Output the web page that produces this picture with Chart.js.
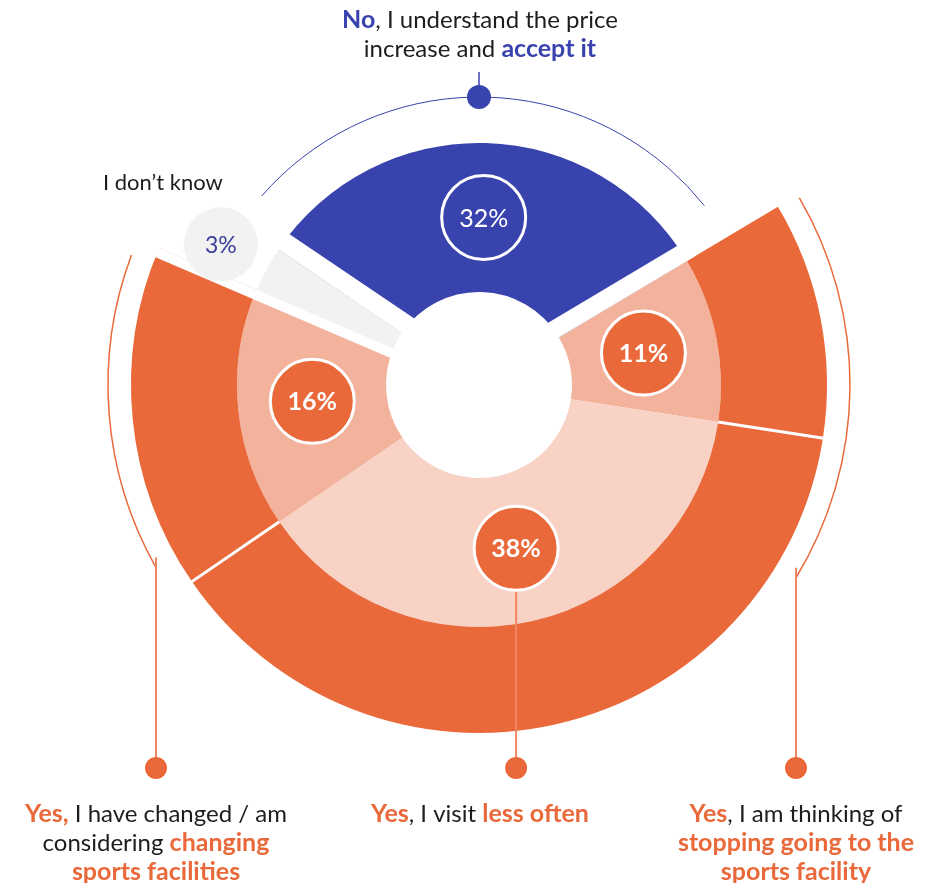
<!DOCTYPE html>
<html>
<head>
<meta charset="utf-8">
<script src="https://cdn.jsdelivr.net/npm/chart.js@4.4.1/dist/chart.umd.min.js"></script>
<style>
  html, body { margin: 0; padding: 0; background: #fff; }
  canvas { display: block; }
</style>
</head>
<body>
<canvas id="poll" width="940" height="883"></canvas>
<script>
// answers, clockwise from the top
const answers = ["accept", "stop", "lessOften", "change", "dontKnow"];
const shares = [32, 11, 38, 16, 3];
const shareLabels = ["32%", "11%", "38%", "16%", "3%"];

// the "Yes" answers get the dark outer band
const innerColors = ["#3843ad", "#f3b29b", "#f7d2c5", "#f3b29b", "#f2f2f2"];
const outerColors = ["rgba(0,0,0,0)", "#ea693a", "#ea693a", "#ea693a", "rgba(0,0,0,0)"];

const BLUE = "#3843ad", ORANGE = "#ea693a", INK = "#1d1d1b", FONT = "Lato";

// caption text: [text, bold]
const titleLines = [
  [["No", true], [", I understand the price", false]],
  [["increase and ", false], ["accept it", true]]
];
const changeLines = [
  [["Yes,", true], [" I have changed / am", false]],
  [["considering ", false], ["changing", true]],
  [["sports facilities", true]]
];
const lessLines = [
  [["Yes", true], [", I visit ", false], ["less often", true]]
];
const stopLines = [
  [["Yes", true], [", I am thinking of", false]],
  [["stopping going to the", true]],
  [["sports facility", true]]
];
const dontKnowText = "I don\u2019t know";

function rich(ctx, parts, cx, y, size, accent) {
  const fonts = parts.map(p => (p[1] ? "bold " + (size + 1) : size) + "px " + FONT);
  let w = 0;
  parts.forEach((p, i) => { ctx.font = fonts[i]; w += ctx.measureText(p[0]).width; });
  let x = cx - w / 2;
  ctx.textAlign = "left";
  ctx.textBaseline = "middle";
  parts.forEach((p, i) => {
    ctx.font = fonts[i];
    ctx.fillStyle = p[1] ? accent : INK;
    ctx.fillText(p[0], x, y);
    x += ctx.measureText(p[0]).width;
  });
}

function mid(el) {
  const a = (el.startAngle + el.endAngle) / 2;
  const r = (el.innerRadius + el.outerRadius) / 2;
  return { x: el.x + Math.cos(a) * r, y: el.y + Math.sin(a) * r, a };
}

function dot(ctx, x, y, r, color) {
  ctx.beginPath(); ctx.arc(x, y, r, 0, Math.PI * 2); ctx.fillStyle = color; ctx.fill();
}

const DEG = Math.PI / 180;
const COL_LEFT = 156, COL_RIGHT = 796, DOT_Y = 768;

const decor = {
  id: "decor",
  afterDatasetsDraw(chart) {
    const ctx = chart.ctx;
    const inner = chart.getDatasetMeta(1).data;
    const outer = chart.getDatasetMeta(0).data;
    const cx = inner[0].x, cy = inner[0].y;
    const ringEdge = outer[1].innerRadius, ringOut = outer[1].outerRadius;

    // white gaps around the blue and grey slices
    const band = (a, w, from, to) => {
      ctx.save(); ctx.translate(cx, cy); ctx.rotate(a);
      ctx.fillStyle = "#fff";
      ctx.fillRect(from, Math.min(0, w), to - from, Math.abs(w));
      ctx.restore();
    };
    band(inner[0].startAngle, 19, 40, ringEdge + 10);
    band(inner[0].endAngle, -18, 40, ringEdge + 10);
    band(inner[4].startAngle, -10, 40, ringOut + 6);

    // thin white dividers in the outer band
    ctx.strokeStyle = "#fff"; ctx.lineWidth = 3;
    [inner[1].endAngle, inner[2].endAngle].forEach(a => {
      ctx.beginPath();
      ctx.moveTo(cx + Math.cos(a) * ringEdge, cy + Math.sin(a) * ringEdge);
      ctx.lineTo(cx + Math.cos(a) * (ringOut + 4), cy + Math.sin(a) * (ringOut + 4));
      ctx.stroke();
    });

    // blue bracket arc with its dot on top
    const rBlue = 288;
    ctx.strokeStyle = BLUE; ctx.lineWidth = 1;
    ctx.beginPath(); ctx.arc(cx, cy, rBlue, inner[0].startAngle + 7 * DEG, inner[0].endAngle - 7.7 * DEG); ctx.stroke();
    ctx.lineWidth = 1.5;
    ctx.beginPath(); ctx.moveTo(cx, cy - rBlue - 25); ctx.lineTo(cx, cy - rBlue); ctx.stroke();
    dot(ctx, cx, cy - rBlue, 12, BLUE);

    // orange bracket arcs down to the answer dots
    const rOr = 371;
    ctx.strokeStyle = ORANGE; ctx.lineWidth = 1.5;
    const rightEnd = Math.acos((COL_RIGHT - cx) / rOr);
    ctx.beginPath(); ctx.arc(cx, cy, rOr, inner[1].startAngle + 0.5 * DEG, rightEnd); ctx.stroke();
    const leftEnd = Math.acos((COL_LEFT - cx) / rOr);
    ctx.beginPath(); ctx.arc(cx, cy, rOr, leftEnd, inner[3].endAngle - 2.7 * DEG); ctx.stroke();

    ctx.strokeStyle = "#ef8660"; ctx.lineWidth = 2;
    const lessPos = mid(inner[2]);
    [[COL_RIGHT, cy + Math.sin(rightEnd) * rOr - 10],
     [COL_LEFT, cy + Math.sin(leftEnd) * rOr - 10],
     [lessPos.x, lessPos.y]].forEach(([x, y0]) => {
      ctx.beginPath(); ctx.moveTo(x, y0); ctx.lineTo(x, DOT_Y); ctx.stroke();
      dot(ctx, x, DOT_Y, 11, ORANGE);
    });

    // value bubbles
    for (let i = 0; i < 4; i++) {
      const p = mid(inner[i]);
      ctx.beginPath(); ctx.arc(p.x, p.y, 42, 0, Math.PI * 2);
      if (i > 0) { ctx.fillStyle = ORANGE; ctx.fill(); }
      ctx.strokeStyle = "#fff"; ctx.lineWidth = 3; ctx.stroke();
      ctx.fillStyle = "#fff";
      ctx.font = (i > 0 ? "bold " : "") + "25px " + FONT;
      ctx.textAlign = "center"; ctx.textBaseline = "middle";
      ctx.fillText(shareLabels[i], p.x, p.y + 1);
    }

    // "don't know" bubble sits outside the ring
    const g = inner[4], ga = (g.startAngle + g.endAngle) / 2;
    const gx = cx + Math.cos(ga) * 294, gy = cy + Math.sin(ga) * 294;
    dot(ctx, gx, gy, 37, "#f2f2f2");
    ctx.fillStyle = "#3b3f99"; ctx.font = "23px " + FONT;
    ctx.textAlign = "center"; ctx.textBaseline = "middle";
    ctx.fillText(shareLabels[4], gx, gy + 1);
    ctx.fillStyle = INK; ctx.font = "22px " + FONT;
    ctx.fillText(dontKnowText, gx - 58, gy - 61);

    // captions
    titleLines.forEach((l, i) => rich(ctx, l, cx + 1, 20 + i * 29, 24, BLUE));
    changeLines.forEach((l, i) => rich(ctx, l, COL_LEFT, 814 + i * 29, 24, ORANGE));
    lessLines.forEach((l, i) => rich(ctx, l, 480, 814 + i * 29, 24, ORANGE));
    stopLines.forEach((l, i) => rich(ctx, l, COL_RIGHT, 814 + i * 29, 24, ORANGE));
  }
};

new Chart(document.getElementById("poll"), {
  type: "doughnut",
  data: {
    labels: answers,
    datasets: [
      { data: shares, backgroundColor: outerColors, borderWidth: 0, weight: 106 },
      { data: shares, backgroundColor: innerColors, borderWidth: 0, weight: 149 }
    ]
  },
  options: {
    responsive: false,
    animation: false,
    events: [],
    rotation: -56,
    cutout: 93,
    hoverOffset: 0,
    hoverBorderWidth: 0,
    elements: { arc: { borderWidth: 0 } },
    layout: { padding: { left: 131, right: 113, top: 37, bottom: 150 } },
    plugins: { legend: { display: false }, tooltip: { enabled: false } }
  },
  plugins: [decor]
});
</script>
</body>
</html>
